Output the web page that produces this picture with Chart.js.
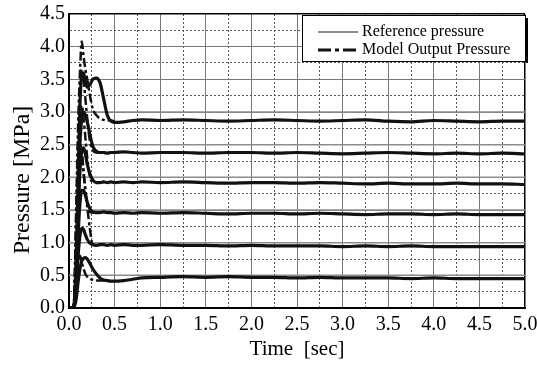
<!DOCTYPE html>
<html><head><meta charset="utf-8">
<script src="https://cdn.jsdelivr.net/npm/chart.js@4/dist/chart.umd.min.js"></script>
<style>html,body{margin:0;padding:0;background:#fff;}canvas{display:block;}</style>
</head><body>
<canvas id="c" width="537" height="374"></canvas>
<script>
// ---- data ----
const timeSec = [0, 0.05, 0.08, 0.10, 0.12, 0.14, 0.16, 0.18, 0.20, 0.23, 0.26, 0.30, 0.34, 0.38, 0.42, 0.46, 0.50, 0.60, 0.70, 0.80, 1.00, 1.25, 1.50, 1.75, 2.00, 2.25, 2.50, 2.75, 3.00, 3.25, 3.50, 3.75, 4.00, 4.25, 4.50, 4.75, 5.00];
const refLevels = [3.0, 2.5, 2.0, 1.5, 1.0, 0.5];
const refTime = [0, 5];

const resp30 = [0,0,0.8,2.0,3.1,3.55,3.6,3.45,3.38,3.42,3.5,3.52,3.45,3.2,2.95,2.86,2.84, 2.85,2.87,2.88, 2.87,2.88,2.87,2.86,2.87,2.88,2.87,2.86,2.87,2.88, 2.86,2.85,2.87,2.86,2.85,2.86,2.86];
const resp25 = [0,0,0.6,1.6,2.5,2.9,3.0,2.95,2.85,2.65,2.48,2.4,2.38,2.38,2.37,2.38,2.38, 2.39,2.38,2.37, 2.38,2.38,2.37,2.38,2.38,2.37,2.38,2.37,2.36,2.37, 2.38,2.37,2.36,2.37,2.36,2.37,2.36];
const resp20 = [0,0,0.5,1.4,2.1,2.4,2.45,2.35,2.2,2.05,1.96,1.92,1.92,1.93,1.92,1.93,1.92, 1.93,1.92,1.93, 1.92,1.93,1.92,1.91,1.92,1.92,1.91,1.92,1.91,1.9, 1.91,1.9,1.9,1.91,1.9,1.9,1.89];
const resp15 = [0,0,0.4,1.1,1.6,1.8,1.8,1.72,1.62,1.52,1.47,1.46,1.46,1.47,1.46,1.46,1.45, 1.46,1.45,1.46, 1.45,1.46,1.45,1.44,1.45,1.45,1.44,1.45,1.44,1.43, 1.44,1.44,1.43,1.44,1.43,1.43,1.43];
const resp10 = [0,0,0.3,0.8,1.1,1.22,1.2,1.12,1.05,0.99,0.97,0.96,0.97,0.97,0.96,0.97,0.96, 0.97,0.96,0.96, 0.97,0.96,0.96,0.95,0.96,0.95,0.95,0.95,0.94,0.95, 0.94,0.95,0.94,0.94,0.94,0.94,0.94];
const resp05 = [0,0,0.15,0.4,0.6,0.72,0.76,0.77,0.75,0.68,0.6,0.52,0.46,0.43,0.42,0.41,0.41, 0.42,0.44,0.46, 0.47,0.48,0.47,0.48,0.47,0.47,0.46,0.47,0.46,0.46, 0.46,0.45,0.46,0.45,0.45,0.45,0.45];

const model30 = [0,0,1.6,2.8,3.6,4.08,3.85,3.65,3.5,3.25,3.05,2.95,2.9,2.88,2.87,2.87,2.86];
const model25 = [0,0,1.4,2.5,3.3,3.65,3.5,3.2,2.9,2.55,2.42,2.38,2.38,2.38,2.37,2.38,2.38];
const model20 = [0,0,1.2,2.2,2.9,3.1,2.9,2.6,2.3,2.0,1.93,1.92,1.92,1.93,1.92,1.93,1.92];
const model15 = [0,0,1.0,1.9,2.5,2.4,2.1,1.8,1.6,1.47,1.46,1.46,1.46,1.47,1.46,1.46,1.45];
const model10 = [0,0,1.1,1.9,2.5,2.3,2.05,1.8,1.55,1.2,0.97,0.96,0.97,0.97,0.96,0.97,0.96];
const model05 = [0,0,0.5,0.75,0.8,0.7,0.6,0.52,0.48,0.45,0.43,0.42,0.42,0.42,0.42,0.41,0.41];

const legendLabels = ['Reference pressure', 'Model Output Pressure'];
const xTitle = 'Time  [sec]';
const yTitle = 'Pressure [MPa]';

// ---- build datasets ----
const FONT = "'Liberation Serif', 'DejaVu Serif', serif";
const toPts = arr => arr.map((v, i) => ({x: timeSec[i], y: v}));
const responses = [resp30, resp25, resp20, resp15, resp10, resp05];
const models = [model30, model25, model20, model15, model10, model05];

const datasets = [];
responses.forEach(r => datasets.push({
  data: toPts(r), borderColor: '#111', borderWidth: 3.2, pointRadius: 0,
  cubicInterpolationMode: 'monotone', order: 1
}));
models.forEach(m => datasets.push({
  data: toPts(m), borderColor: '#111', borderWidth: 2.5, pointRadius: 0,
  borderDash: [9, 3, 3, 3], cubicInterpolationMode: 'monotone', order: 2
}));
refLevels.forEach(l => datasets.push({
  data: refTime.map(t => ({x: t, y: l})), borderColor: '#8c8c8c', borderWidth: 1.5,
  pointRadius: 0, order: 3
}));

const isMajor = v => Math.abs(v * 2 - Math.round(v * 2)) < 1e-6;

function gridOpts(max) {
  return {
    color: c => (c.tick && Math.abs(c.tick.value - max) < 1e-6) ? '#000' : (c.tick && isMajor(c.tick.value) ? '#777' : '#555'),
    lineWidth: c => (c.tick && Math.abs(c.tick.value - max) < 1e-6) ? 1.5 : 1,
    drawTicks: false
  };
}
function borderOpts() {
  return {
    display: true, color: '#000', width: 2,
    dash: c => (c.tick && !isMajor(c.tick.value)) ? [2, 2] : []
  };
}

const legendPlugin = {
  id: 'boxLegend',
  afterDatasetsDraw(chart) {
    const ctx = chart.ctx;
    const x0 = 302, y0 = 15, x1 = 525, y1 = 61;
    ctx.save();
    ctx.fillStyle = '#fff';
    ctx.fillRect(x0, y0, x1 - x0, y1 - y0);
    ctx.strokeStyle = '#000';
    ctx.lineWidth = 1;
    ctx.strokeRect(x0 + 0.5, y0 + 0.5, x1 - x0, y1 - y0);
    ctx.lineWidth = 2;
    ctx.beginPath(); ctx.moveTo(x1 + 2, y0 + 3); ctx.lineTo(x1 + 2, y1 + 2); ctx.stroke();
    ctx.strokeStyle = '#8c8c8c'; ctx.lineWidth = 2; ctx.setLineDash([]);
    ctx.beginPath(); ctx.moveTo(318, 32); ctx.lineTo(358, 32); ctx.stroke();
    ctx.strokeStyle = '#111'; ctx.lineWidth = 3; ctx.setLineDash([13, 4, 4, 4]);
    ctx.beginPath(); ctx.moveTo(318, 50); ctx.lineTo(359, 50); ctx.stroke();
    ctx.setLineDash([]);
    ctx.fillStyle = '#000';
    ctx.font = '16px ' + FONT;
    ctx.textBaseline = 'middle';
    ctx.fillText(legendLabels[0], 362, 32);
    ctx.fillText(legendLabels[1], 362, 50);
    ctx.restore();
  }
};

// y-axis title drawn rotated beside the axis
const yTitlePlugin = {
  id: 'yTitle',
  afterDraw(chart) {
    const ctx = chart.ctx;
    ctx.save();
    ctx.translate(23, 180);
    ctx.rotate(-Math.PI / 2);
    ctx.fillStyle = '#000';
    ctx.font = '24px ' + FONT;
    ctx.textAlign = 'center';
    ctx.textBaseline = 'middle';
    ctx.fillText(yTitle, 0, 0);
    ctx.restore();
  }
};

new Chart(document.getElementById('c'), {
  type: 'line',
  data: {datasets},
  plugins: [legendPlugin, yTitlePlugin],
  options: {
    responsive: false, animation: false, devicePixelRatio: 1,
    layout: {padding: {left: 0, right: 12, top: 14, bottom: 0}},
    plugins: {legend: {display: false}, tooltip: {enabled: false}},
    scales: {
      x: {
        type: 'linear', min: 0, max: 5,
        afterFit: s => { s.height = 66; s.paddingRight = 0; s.paddingLeft = 0; },
        ticks: {stepSize: 0.25, autoSkip: false, maxRotation: 0, padding: 5, color: '#000',
          font: {family: FONT, size: 20},
          callback: v => isMajor(v) ? v.toFixed(1) : ''},
        grid: gridOpts(5), border: borderOpts(),
        title: {display: true, text: xTitle, color: '#000', font: {family: FONT, size: 21}, padding: {top: 0, bottom: 12}}
      },
      y: {
        type: 'linear', min: 0, max: 4.5,
        afterFit: s => { s.width = 69; s.paddingTop = 0; s.paddingBottom = 0; },
        ticks: {stepSize: 0.25, autoSkip: false, padding: 4, color: '#000',
          font: {family: FONT, size: 20},
          callback: v => isMajor(v) ? v.toFixed(1) : ''},
        grid: gridOpts(4.5), border: borderOpts(),
        title: {display: false}
      }
    }
  }
});
</script>
</body></html>
